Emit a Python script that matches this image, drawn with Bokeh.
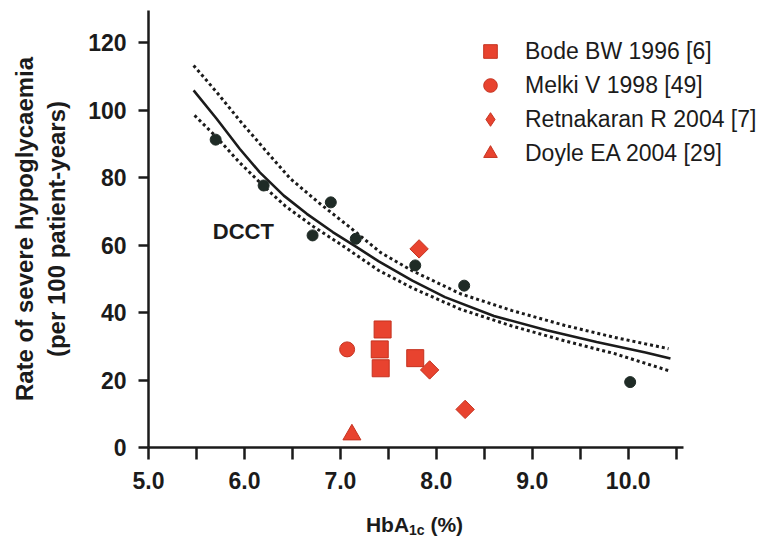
from bokeh.plotting import figure
from bokeh.layouts import column
from bokeh.models import FixedTicker, PrintfTickFormatter, Label, Legend, LegendItem
from bokeh.embed import file_html
from bokeh.resources import INLINE

# ---------------- data ----------------
# DCCT cohort points
dcct_x = [5.70, 6.20, 6.71, 6.90, 7.16, 7.78, 8.29, 10.02]
dcct_y = [91.3, 77.7, 62.9, 72.7, 61.9, 54.0, 48.0, 19.4]

# DCCT fitted curve (solid) and its confidence limits (dotted)
fit_x = [5.47, 5.71, 5.95, 6.16, 6.41, 6.65, 6.92, 7.17, 7.40, 7.75, 8.09, 8.60, 9.15, 9.67, 10.18, 10.44]
fit_y = [105.9, 97.5, 88.6, 81.6, 74.7, 69.3, 63.9, 59.4, 55.2, 49.5, 44.6, 39.0, 34.8, 31.3, 28.2, 26.4]

upper_x = [5.47, 5.71, 5.95, 6.22, 6.48, 6.77, 7.09, 7.42, 7.75, 8.25, 8.79, 9.34, 9.85, 10.42]
upper_y = [113.3, 105.4, 97.0, 88.1, 79.7, 72.7, 65.5, 57.8, 52.4, 45.6, 40.6, 36.2, 32.7, 29.3]

lower_x = [5.48, 5.71, 5.95, 6.20, 6.43, 6.72, 6.99, 7.40, 7.75, 8.25, 8.79, 9.34, 9.85, 10.42]
lower_y = [98.5, 92.0, 84.5, 77.5, 71.5, 65.5, 60.5, 52.5, 47.3, 41.0, 36.0, 31.6, 27.9, 22.8]

# CSII studies
bode_x = [7.44, 7.41, 7.42, 7.78]
bode_y = [35.0, 29.1, 23.5, 26.5]
melki_x = [7.07]
melki_y = [29.1]
retn_x = [7.82, 7.93, 8.30]
retn_y = [58.9, 23.0, 11.3]
doyle_x = [7.12]
doyle_y = [3.8]

legend_labels = ["Bode BW 1996 [6]", "Melki V 1998 [49]", "Retnakaran R 2004 [7]", "Doyle EA 2004 [29]"]

x_major = [5, 6, 7, 8, 9, 10]
x_minor = [5.5, 6.5, 7.5, 8.5, 9.5, 10.5]
y_major = [0, 20, 40, 60, 80, 100, 120]

dcct_label = "DCCT"
dcct_label_pos = (5.67, 64.1)

y_title = "Rate of severe hypoglycaemia\n(per 100 patient-years)"
x_title_parts = ("HbA", "1c", "(%)")

# ---------------- styling ----------------
FONT = "Liberation Sans"
INK = "#1b1b1b"
RED = "#e8432f"
RED_EDGE = "#c5321f"
DARK = "#1f2b26"
W = 764
LEFT = 148

p = figure(width=W, height=495, output_backend="svg", toolbar_location=None,
           x_range=(5.0, 11.42), y_range=(0, 129.6),
           min_border_left=LEFT, min_border_right=0, min_border_top=10, min_border_bottom=48)

p.xgrid.visible = False
p.ygrid.visible = False
p.outline_line_color = None
p.background_fill_color = "white"
p.border_fill_color = "white"

# x axis
xa = p.xaxis[0]
xa.bounds = (5.0, 10.58)
xa.ticker = FixedTicker(ticks=x_major, minor_ticks=x_minor)
xa.formatter = PrintfTickFormatter(format="%.1f")
xa.axis_line_width = 2.5
xa.axis_line_color = INK
xa.major_tick_line_width = 2.5
xa.major_tick_line_color = INK
xa.minor_tick_line_width = 2.5
xa.minor_tick_line_color = INK
xa.major_tick_in = 0
xa.major_tick_out = 12
xa.minor_tick_in = 0
xa.minor_tick_out = 12
xa.major_label_text_font = FONT
xa.major_label_text_font_style = "bold"
xa.major_label_text_font_size = "23px"
xa.major_label_text_color = INK
xa.major_label_standoff = 12

# y axis
ya = p.yaxis[0]
ya.ticker = FixedTicker(ticks=y_major, minor_ticks=[])
ya.formatter = PrintfTickFormatter(format="%d")
ya.axis_line_width = 2.5
ya.axis_line_color = INK
ya.major_tick_line_width = 2.5
ya.major_tick_line_color = INK
ya.minor_tick_line_color = None
ya.major_tick_in = 0
ya.major_tick_out = 10
ya.major_label_text_font = FONT
ya.major_label_text_font_style = "bold"
ya.major_label_text_font_size = "23px"
ya.major_label_text_color = INK
ya.major_label_standoff = 12
ya.axis_label = y_title
ya.axis_label_text_font = FONT
ya.axis_label_text_font_style = "bold"
ya.axis_label_text_font_size = "24px"
ya.axis_label_text_color = INK
ya.axis_label_standoff = 15
ya.axis_label_text_line_height = 1.2

# curves
p.line(upper_x, upper_y, line_color=INK, line_width=3, line_dash="3 3", line_cap="butt")
p.line(lower_x, lower_y, line_color=INK, line_width=3, line_dash="3 3", line_cap="butt")
p.line(fit_x, fit_y, line_color=INK, line_width=2.6)

# DCCT points
p.scatter(dcct_x, dcct_y, marker="circle", size=11, fill_color=DARK, line_color=DARK)

# study markers
r_bode = p.scatter(bode_x, bode_y, marker="square", size=17, fill_color=RED, line_color=RED_EDGE, line_width=1)
r_melki = p.scatter(melki_x, melki_y, marker="circle", size=15, fill_color=RED, line_color=RED_EDGE, line_width=1)
# diamond key (the legend does not rotate markers); drawn underneath the rotated squares
r_retn_key = p.scatter(retn_x, retn_y, marker="diamond", size=13, fill_color=RED, line_color=RED_EDGE, line_width=1)
r_retn = p.scatter(retn_x, retn_y, marker="square", angle=0.785398, size=13, fill_color=RED,
                   line_color=RED_EDGE, line_width=1)
r_doyle = p.scatter(doyle_x, doyle_y, marker="triangle", size=18, fill_color=RED, line_color=RED_EDGE, line_width=1)

legend = Legend(items=[LegendItem(label=lab, renderers=[r]) for lab, r in
                       zip(legend_labels, [r_bode, r_melki, r_retn_key, r_doyle])],
                location=(322, 277))
legend.background_fill_alpha = 0
legend.border_line_color = None
legend.padding = 0
legend.margin = 0
legend.spacing = 0
legend.glyph_width = 40
legend.glyph_height = 34
legend.label_height = 26
legend.label_standoff = 15
legend.label_text_font = FONT
legend.label_text_font_size = "23px"
legend.label_text_color = INK
p.add_layout(legend)

# DCCT annotation
p.add_layout(Label(x=dcct_label_pos[0], y=dcct_label_pos[1], text=dcct_label, text_font=FONT,
                   text_font_style="bold", text_font_size="22px", text_color=INK,
                   text_baseline="middle", text_align="left"))

# ---------------- x axis title strip: HbA_1c (%) ----------------
# frame of this strip spans the same columns as the main plot frame (x = pixels from its left edge)
H2 = 45
t = figure(width=W, height=H2, output_backend="svg", toolbar_location=None,
           x_axis_type=None, y_axis_type=None,
           x_range=(0, W - LEFT), y_range=(0, H2),
           min_border_left=LEFT, min_border_right=0, min_border_top=0, min_border_bottom=0)
t.grid.visible = False
t.outline_line_color = None
t.background_fill_color = "white"
t.border_fill_color = "white"

main_size, sub_size = 21, 14
w_main = (0.722 + 0.611 + 0.722) * main_size
w_sub = (0.556 + 0.556) * sub_size
w_space = 0.278 * main_size
w_tail = (0.333 + 0.889 + 0.333) * main_size
center_x = 414 - LEFT
start = center_x - (w_main + w_sub + w_space + w_tail) / 2
base_y = 16
for txt, xx, yy, sz in [(x_title_parts[0], start, base_y, main_size),
                        (x_title_parts[1], start + w_main, base_y - 5, sub_size),
                        (x_title_parts[2], start + w_main + w_sub + w_space, base_y, main_size)]:
    t.add_layout(Label(x=xx, y=yy, text=txt, text_font=FONT,
                       text_font_style="bold", text_font_size=f"{sz}px", text_color=INK,
                       text_align="left", text_baseline="alphabetic"))

layout = column(p, t, spacing=0)
open("out.html", "w").write(file_html(layout, INLINE))
